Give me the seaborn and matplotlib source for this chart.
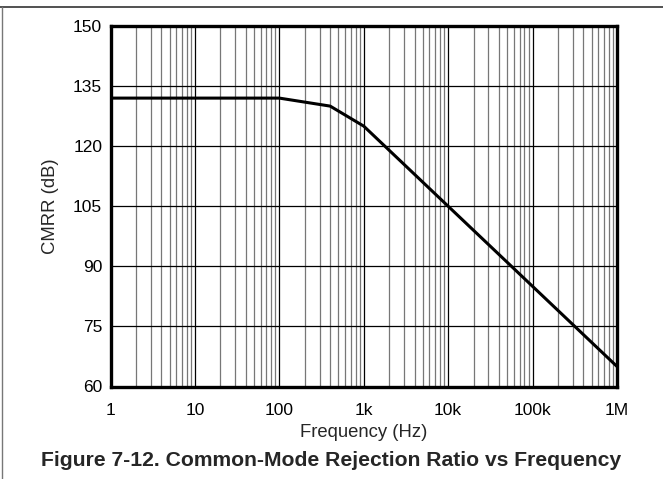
import matplotlib
matplotlib.use("Agg")
import matplotlib.pyplot as plt
import seaborn as sns
import pandas as pd
from matplotlib.lines import Line2D
from matplotlib.ticker import FixedLocator, LogLocator, NullFormatter

# values
freq_hz = [1, 10, 100, 400, 1000, 10000, 100000, 1000000]
cmrr_db = [132, 132, 132, 130, 125, 105, 85, 65]

x_ticks = [1, 10, 100, 1e3, 1e4, 1e5, 1e6]
x_tick_labels = ['1', '10', '100', '1k', '10k', '100k', '1M']
y_ticks = [60, 75, 90, 105, 120, 135, 150]

df = pd.DataFrame({'Frequency': freq_hz, 'CMRR': cmrr_db})

sns.set_style('white')
plt.rcParams['font.family'] = ['Liberation Sans', 'DejaVu Sans']

fig = plt.figure(figsize=(6.63, 4.79), dpi=100)
ax = fig.add_axes([110.5 / 663, 1 - 386.5 / 479, (617 - 110.5) / 663, (386.5 - 26) / 479])

sns.lineplot(data=df, x='Frequency', y='CMRR', ax=ax, color='black', linewidth=2.2, zorder=5)

ax.set_xscale('log')
ax.set_xlim(1, 1e6)
ax.set_ylim(60, 150)

ax.xaxis.set_major_locator(FixedLocator(x_ticks))
ax.set_xticklabels(x_tick_labels)
ax.xaxis.set_minor_locator(LogLocator(base=10, subs=range(2, 10), numticks=50))
ax.xaxis.set_minor_formatter(NullFormatter())
ax.set_yticks(y_ticks)

ax.grid(True, which='major', axis='both', color='black', linewidth=0.9)
ax.grid(True, which='minor', axis='x', color='#777777', linewidth=0.9)
ax.tick_params(which='both', length=0, labelsize=12.5, colors='black')
ax.tick_params(axis='x', pad=12)
ax.tick_params(axis='y', pad=6)

for s in ax.spines.values():
    s.set_visible(True)
    s.set_color('black')
    s.set_linewidth(2.4)

ax.set_xlabel('Frequency (Hz)', fontsize=13.3, labelpad=4)
ax.set_ylabel('CMRR (dB)', fontsize=13.3, labelpad=10)

fig.text(0.5, 1 - 460 / 479, 'Figure 7-12. Common-Mode Rejection Ratio vs Frequency',
         ha='center', va='center', fontsize=15.2, fontweight='bold')

# page frame lines
fig.add_artist(Line2D([0, 1], [1 - 7.3 / 479, 1 - 7.3 / 479], color='#333333', linewidth=1.2,
                      transform=fig.transFigure))
fig.add_artist(Line2D([1.5 / 663, 1.5 / 663], [0, 1 - 7.3 / 479], color='#777777', linewidth=1.0,
                      transform=fig.transFigure))

fig.savefig('out.png', dpi=100)
